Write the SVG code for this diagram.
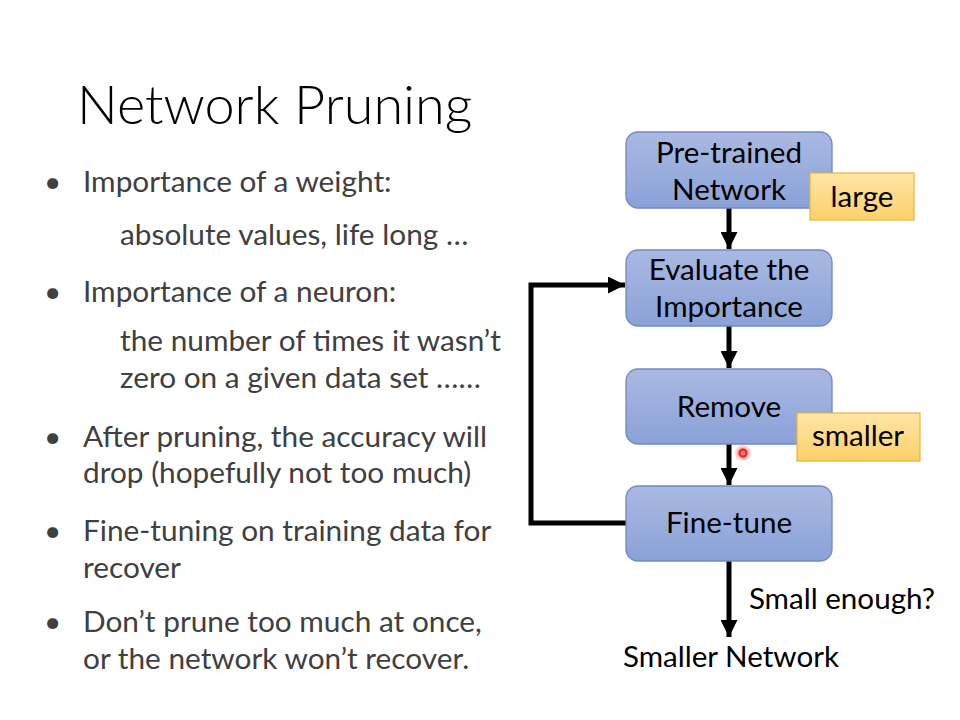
<svg xmlns="http://www.w3.org/2000/svg" width="960" height="720" viewBox="0 0 960 720">
<defs>
<linearGradient id="gBlue" x1="0" y1="0" x2="0" y2="1">
<stop offset="0" stop-color="#aab9e2"/>
<stop offset="1" stop-color="#8aa2d8"/>
</linearGradient>
<linearGradient id="gGold" x1="0" y1="0" x2="0" y2="1">
<stop offset="0" stop-color="#ffe6a6"/>
<stop offset="1" stop-color="#fdd06a"/>
</linearGradient>
<radialGradient id="glow">
<stop offset="0.3" stop-color="#ff3030" stop-opacity="0.6"/>
<stop offset="1" stop-color="#ff3030" stop-opacity="0"/>
</radialGradient>
<marker id="ah" viewBox="0 0 10 10" refX="10" refY="5" markerWidth="3.4" markerHeight="3.4" markerUnits="strokeWidth" orient="auto">
<path d="M0,0 L10,5 L0,10 z" fill="#000"/>
</marker>
</defs>
<style>
.t{font-family:Lato,"Open Sans","Liberation Sans",sans-serif;}
.title{font-size:54px;fill:#000;font-weight:300;}
.b{font-size:29.8px;fill:#404040;}
.n{font-size:29.6px;fill:#000;text-anchor:middle;}
.box{fill:url(#gBlue);stroke:#6f88c8;stroke-width:1.3;}
.tag{fill:url(#gGold);stroke:#e8b43a;stroke-width:1.2;}
.c{stroke:#000;stroke-width:5;fill:none;}
</style>
<rect width="960" height="720" fill="#fff"/>
<text class="t title" x="77" y="124">Network Pruning</text>
<g id="bullets" class="t b">
<text x="44" y="192">•</text>
<text x="83" y="192">Importance of a weight:</text>
<text x="120" y="245">absolute values, life long …</text>
<text x="44" y="302">•</text>
<text x="83" y="302">Importance of a neuron:</text>
<text x="120" y="351">the number of times it wasn’t</text>
<text x="120" y="388">zero on a given data set ……</text>
<text x="44" y="447">•</text>
<text x="83" y="447">After pruning, the accuracy will</text>
<text x="83" y="483">drop (hopefully not too much)</text>
<text x="44" y="541">•</text>
<text x="83" y="541">Fine-tuning on training data for</text>
<text x="83" y="578">recover</text>
<text x="44" y="632">•</text>
<text x="83" y="632">Don’t prune too much at once,</text>
<text x="83" y="669">or the network won’t recover.</text>
</g>
<g id="connectors">
<line class="c" x1="729" y1="208" x2="729" y2="249" marker-end="url(#ah)"/>
<line class="c" x1="729" y1="326" x2="729" y2="368" marker-end="url(#ah)"/>
<line class="c" x1="729" y1="444" x2="729" y2="485" marker-end="url(#ah)"/>
<line class="c" x1="729" y1="561" x2="729" y2="637" marker-end="url(#ah)"/>
<polyline class="c" points="626,523 531,523 531,285 625,285" marker-end="url(#ah)"/>
</g>
<g id="node-pretrained">
<rect class="box" x="626" y="132" width="206" height="76" rx="12"/>
<text class="t n" x="729" y="163">Pre-trained</text>
<text class="t n" x="729" y="200">Network</text>
</g>
<g id="tag-large">
<rect class="tag" x="810" y="173" width="104" height="47"/>
<text class="t n" x="862" y="207">large</text>
</g>
<g id="node-evaluate">
<rect class="box" x="626" y="250" width="206" height="76" rx="12"/>
<text class="t n" x="729" y="280">Evaluate the</text>
<text class="t n" x="729" y="317">Importance</text>
</g>
<g id="node-remove">
<rect class="box" x="626" y="369" width="206" height="75" rx="12"/>
<text class="t n" x="729" y="417">Remove</text>
</g>
<g id="tag-smaller">
<rect class="tag" x="797" y="413" width="123" height="48"/>
<text class="t n" x="858" y="446">smaller</text>
</g>
<g id="node-finetune">
<rect class="box" x="626" y="486" width="206" height="75" rx="12"/>
<text class="t n" x="729" y="533">Fine-tune</text>
</g>
<text class="t n" x="842" y="609">Small enough?</text>
<text class="t n" x="731" y="667">Smaller Network</text>
<g id="pointer">
<circle cx="743" cy="453" r="9" fill="url(#glow)"/>
<circle cx="743" cy="453" r="3.5" fill="none" stroke="#ff1a1a" stroke-width="2"/>
</g>
</svg>
